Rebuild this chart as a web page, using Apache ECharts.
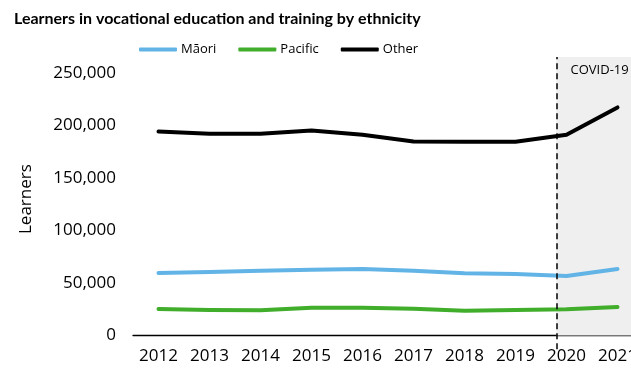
<!DOCTYPE html>
<html>
<head>
<meta charset="utf-8">
<script src="https://cdn.jsdelivr.net/npm/echarts@6/dist/echarts.min.js"></script>
<style>
  html, body { margin: 0; padding: 0; background: #fff; }
  #chart { width: 631px; height: 371px; }
</style>
</head>
<body>
<div id="chart"></div>
<script>
// data
const years = ['2012', '2013', '2014', '2015', '2016', '2017', '2018', '2019', '2020', '2021']
const maori = [59500, 60500, 61700, 62700, 63300, 61700, 59200, 58600, 56700, 63300]
const pacific = [25200, 24300, 24000, 26500, 26500, 25500, 23600, 24300, 25000, 27100]
const other = [194100, 191900, 191900, 195000, 191000, 184600, 184300, 184300, 191000, 217000]
const yTicks = [0, 50000, 100000, 150000, 200000, 250000]
const covidStart = 2019.8 // where the COVID-19 period begins on the year scale

const font = 'Open Sans'
const myChart = echarts.init(document.getElementById('chart'))

const lineSeries = (name, color, data) => ({
  name: name,
  type: 'line',
  symbol: 'none',
  data: data,
  lineStyle: { color: color, width: 4, cap: 'round', join: 'round' },
  itemStyle: { color: color },
  z: 3
})

const option = {
  animation: false,
  title: {
    text: 'Learners in vocational education and training by ethnicity',
    left: 9,
    top: 6,
    textStyle: { fontFamily: 'Lato', fontWeight: 'bold', fontSize: 16, color: '#000' }
  },
  legend: {
    data: ['Māori', 'Pacific', 'Other'],
    left: 134,
    top: 38,
    icon: 'roundRect',
    itemWidth: 38,
    itemHeight: 4,
    itemGap: 22,
    textStyle: { fontFamily: font, fontSize: 13, color: '#000', padding: [0, 0, 0, -1] }
  },
  // the plot runs off the right edge (2021 is cut), and the dashed COVID line
  // dips a little below the x axis, so the value range goes under zero
  grid: { left: 133, width: 510, top: 57, bottom: 21.8, outerBoundsMode: 'none', containLabel: false },
  xAxis: [
    {
      type: 'category',
      data: years,
      axisLine: { onZero: true, lineStyle: { color: '#000', width: 1.3 } },
      axisTick: { length: 5, lineStyle: { color: '#000', width: 1.3 } },
      axisLabel: { interval: 0, fontFamily: font, fontSize: 17, color: '#000', margin: -2 }
    },
    { type: 'value', min: 2011.5, max: 2021.5, show: false }
  ],
  yAxis: {
    type: 'value',
    min: -13000,
    max: 265000,
    name: 'Learners',
    nameLocation: 'middle',
    nameGap: 98,
    nameTextStyle: { fontFamily: font, fontSize: 17, color: '#000', padding: [0, 0, 0, 8] },
    splitLine: { show: false },
    axisLine: { show: false },
    axisTick: { show: false },
    axisLabel: {
      customValues: yTicks,
      fontFamily: font,
      fontSize: 17,
      color: '#000',
      margin: 17,
      formatter: v => v.toLocaleString('en-US')
    }
  },
  series: [
    {
      name: 'covid',
      type: 'line',
      xAxisIndex: 1,
      data: [],
      markArea: {
        silent: true,
        itemStyle: { color: '#efefef' },
        label: {
          show: true,
          position: 'insideTop',
          distance: 7,
          fontFamily: font,
          fontSize: 13,
          color: '#000'
        },
        data: [[{ name: 'COVID-19', coord: [covidStart, 0] }, { coord: [2021.5, 265000] }]]
      },
      markLine: {
        silent: true,
        symbol: 'none',
        label: { show: false },
        lineStyle: { color: '#000', type: [6, 4], width: 1.5 },
        data: [[{ coord: [covidStart, -13000] }, { coord: [covidStart, 265000] }]]
      }
    },
    lineSeries('Māori', '#62b4e6', maori),
    lineSeries('Pacific', '#40ad2b', pacific),
    lineSeries('Other', '#000000', other)
  ]
}

myChart.setOption(option)
</script>
</body>
</html>
